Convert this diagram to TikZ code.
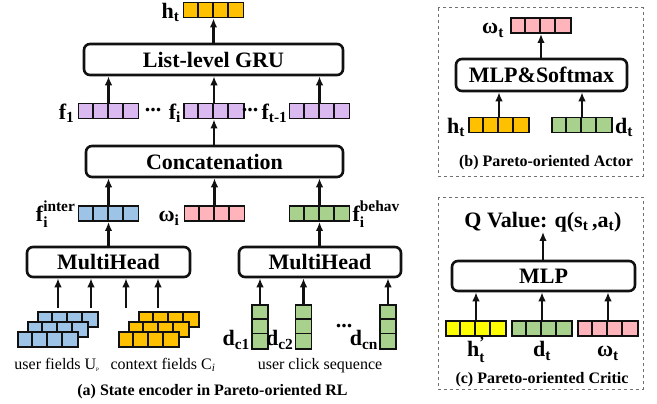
\documentclass[tikz,border=0pt]{standalone}
\usepackage{fontspec}
\setmainfont{Liberation Serif}
\usepackage{amsmath}
\usetikzlibrary{arrows.meta, positioning, calc}
\definecolor{trait}{HTML}{111111}
\definecolor{gris}{HTML}{707070}
\definecolor{dore}{HTML}{FFC000}
\definecolor{lavande}{HTML}{DAB8F0}
\definecolor{bleuclair}{HTML}{9DC3E6}
\definecolor{vertclair}{HTML}{A9D18E}
\definecolor{rosepale}{HTML}{FFB3BA}
\definecolor{jaunevif}{HTML}{FFFF00}

\begin{document}
\begin{tikzpicture}[x=1pt, y=-1pt,
    bloc/.style={draw=trait, line width=2.6pt, rounded corners=6pt, fill=white, inner sep=0pt,
      font=\fontsize{22}{25}\selectfont\bfseries},
    vecteur/.style={draw=trait, line width=1.8pt, minimum width=60pt, minimum height=15pt, inner sep=0pt},
    colonne/.style={draw=trait, line width=1.8pt, minimum width=16pt, minimum height=44pt, inner sep=0pt},
    etiq/.style={font=\fontsize{22}{25}\selectfont\bfseries, inner sep=0pt},
    legende/.style={font=\fontsize{16}{19}\selectfont\bfseries, inner sep=0pt},
    texte/.style={font=\fontsize{16}{19}\selectfont, inner sep=0pt},
    fleche/.style={-{Latex[length=9pt,width=7.5pt]}, line width=2.1pt, draw=trait},
    cadre/.style={draw=gris, dashed, line width=1pt}]
    \useasboundingbox (0,0) rectangle (657,404);

    % Cadres pointilles
    \draw[cadre] (438,8) rectangle (643,176);
    \draw[cadre] (438,197) rectangle (643,389);

    % Blocs
    \node[bloc, minimum width=259pt, minimum height=31pt] (gru) at (213.5,59.5) {List-level GRU};
    \node[bloc, minimum width=257pt, minimum height=31pt] (concat) at (214.5,161.5) {Concatenation};
    \node[bloc, minimum width=163pt, minimum height=30pt] (mh1) at (108.5,262) {MultiHead};
    \node[bloc, minimum width=162pt, minimum height=30pt] (mh2) at (320,262) {MultiHead};
    \node[bloc, minimum width=171pt, minimum height=32pt] (mlps) at (541.5,75) {MLP\&Softmax};
    \node[bloc, minimum width=183pt, minimum height=30pt] (mlp) at (543.5,276) {MLP};

    % Vecteurs : nom, x, y, couleur
    \foreach \nom/\x/\y/\col in {
      ht/213.5/10/dore, f1/108.5/111/lavande, fi/214/111/lavande, ft1/319.5/111/lavande,
      finter/108.5/213.5/bleuclair, omi/214.5/213.5/rosepale, fbehav/319.5/213.5/vertclair,
      u3/68/319.5/bleuclair, u2/58/329.5/bleuclair, u1/48/339.5/bleuclair,
      c3/169/319.5/dore, c2/159/329.5/dore, c1/149/339.5/dore,
      omt/541/25.5/rosepale, hta/499/125/dore, dta/582/125/vertclair,
      htc/476/328.5/jaunevif, dtc/542/328.5/vertclair, omc/608/328.5/rosepale} {
      \node[vecteur, fill=\col] (\nom) at (\x,\y) {};
      \foreach \k in {1,2,3}
        \draw[trait, line width=1.8pt] (\nom.north west) ++(15*\k,0) -- ++(0,15);
    }
    % Sequence de clics
    \foreach \nom/\x in {dc1/260, dc2/303.5, dcn/388} {
      \node[colonne, fill=vertclair] (\nom) at (\x,327) {};
      \foreach \k in {1,2}
        \draw[trait, line width=1.8pt] (\nom.north west) ++(0,44*\k/3) -- ++(16,0);
    }

    % Etiquettes
    \node[etiq, anchor=base east] (lht) at ([xshift=-3pt]ht.south west) {$\text{h}_\text{t}$};
    \node[etiq, anchor=base east] (lf1) at ([xshift=-3pt]f1.south west) {$\text{f}_\text{1}$};
    \node[etiq] (pts1) at (153,110) {...};
    \node[etiq, anchor=base east] (lfi) at ([xshift=-2pt]fi.south west) {$\text{f}_\text{i}$};
    \node[etiq] (pts2) at (250,110) {...};
    \node[etiq, anchor=base east] (lft1) at ([xshift=-1pt]ft1.south west) {$\text{f}_\text{t-1}$};
    \node[etiq, anchor=base east] (lfinter) at ([xshift=-2pt]finter.south west) {$\text{f}_\text{i}^\text{inter}$};
    \node[etiq, anchor=base east] (lomi) at ([xshift=-4pt]omi.south west) {$\text{ω}_\text{i}$};
    \node[etiq, anchor=base west] (lfbehav) at ([xshift=2pt]fbehav.south east) {$\text{f}_\text{i}^\text{behav}$};
    \foreach \nom/\ind in {dc1/c1, dc2/c2, dcn/cn}
      \node[etiq, anchor=base east] (l\nom) at ([xshift=-1pt, yshift=4pt]\nom.south west) {$\text{d}_\text{\ind}$};
    \node[etiq] (pts3) at (344,326) {...};
    \node[etiq, anchor=base east] (lomt) at ([xshift=-6pt]omt.south west) {$\text{ω}_\text{t}$};
    \node[etiq, anchor=base east] (lhta) at ([xshift=-3pt]hta.south west) {$\text{h}_\text{t}$};
    \node[etiq, anchor=base west] (ldta) at ([xshift=2pt]dta.south east) {$\text{d}_\text{t}$};
    \node[etiq, anchor=base] (lhtc) at ([yshift=-20pt]htc.south) {$\text{h}_\text{t}^\text{'}$};
    \node[etiq, anchor=base] (ldtc) at ([yshift=-20pt]dtc.south) {$\text{d}_\text{t}$};
    \node[etiq, anchor=base] (lomc) at ([yshift=-20pt]omc.south) {$\text{ω}_\text{t}$};
    \node[etiq, anchor=base] (qval) at (543,227) {Q Value: q(s$_\text{t}$\,,a$_\text{t}$)};

    % Textes et legendes
    \node[texte, anchor=base] (tuser) at (57,369) {user fields U\textsubscript{\tiny P}};
    \node[texte, anchor=base] (tctx) at (163,369) {context fields C\textsubscript{\itshape i}};
    \node[texte, anchor=base] (tclic) at (320,369) {user click sequence};
    \node[legende, anchor=base] (lega) at (212.5,395) {(a) State encoder in Pareto-oriented RL};
    \node[legende, anchor=base] (legb) at (546,167) {(b) Pareto-oriented Actor};
    \node[legende, anchor=base] (legc) at (542,383) {(c) Pareto-oriented Critic};

    % Fleches
    \draw[fleche] (gru.north -| ht) -- (ht);
    \foreach \v in {f1, fi, ft1}
      \draw[fleche] (\v) -- (\v |- gru.south);
    \draw[fleche] (concat.north -| fi) -- (fi);
    \foreach \v in {finter, omi, fbehav}
      \draw[fleche] (\v) -- (\v |- concat.south);
    \draw[fleche] (mh1.north -| finter) -- (finter);
    \draw[fleche] (mh2.north -| fbehav) -- (fbehav);
    \foreach \i/\x in {1/58, 2/91, 3/126, 4/158} {
      \coordinate (e\i) at (\x,308);
      \draw[fleche] (e\i) -- (e\i |- mh1.south);
    }
    \foreach \v in {dc1, dc2, dcn}
      \draw[fleche] (\v) -- (\v |- mh2.south);
    \draw[fleche] (mlps.north -| omt) -- (omt);
    \foreach \v in {hta, dta}
      \draw[fleche] (\v) -- (\v |- mlps.south);
    \foreach \v in {htc, dtc, omc}
      \draw[fleche] (\v) -- (\v |- mlp.south);
    \draw[fleche] (mlp.north -| qval) -- (qval);
  \end{tikzpicture}
\end{document}
